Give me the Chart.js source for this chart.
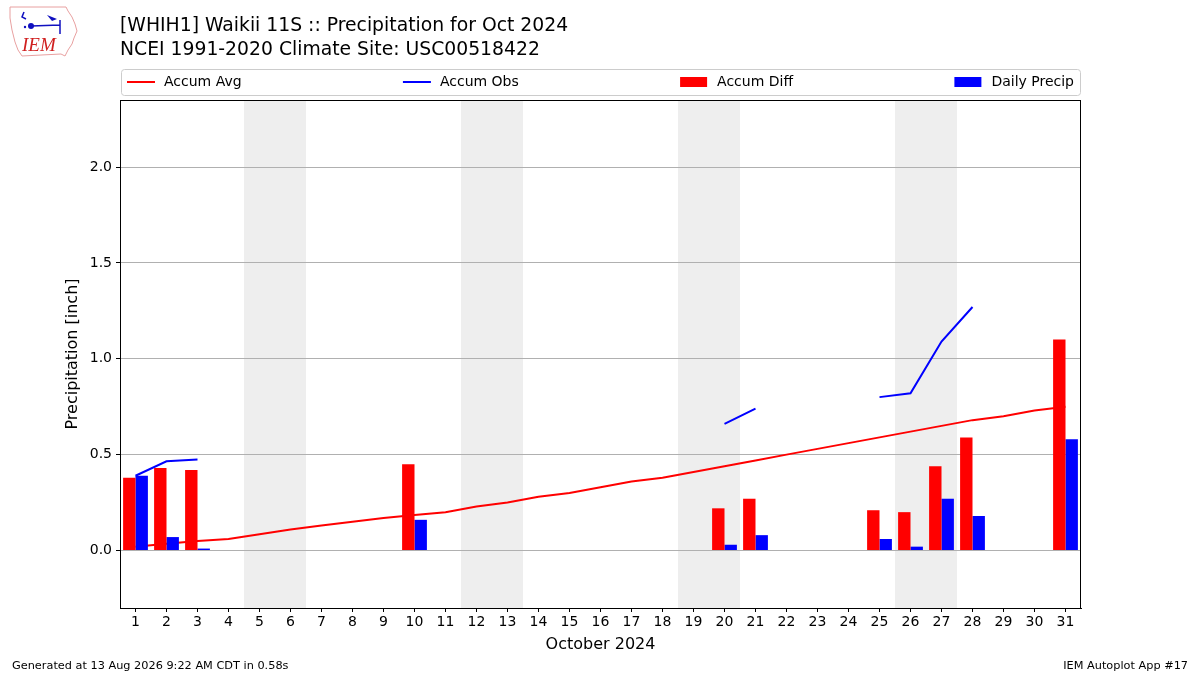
<!DOCTYPE html>
<html>
<head>
<meta charset="utf-8">
<title>Waikii 11S Precipitation Oct 2024</title>
<script src="https://cdn.jsdelivr.net/npm/chart.js@4.4.1/dist/chart.umd.min.js"></script>
<style>
  html, body { margin: 0; padding: 0; background: #fff; }
  #chart { display: block; }
</style>
</head>
<body>
<canvas id="chart" width="1200" height="675"></canvas>
<script>
// days of October 2024
const days = ['1', '2', '3', '4', '5', '6', '7', '8', '9', '10', '11', '12', '13', '14', '15', '16',
  '17', '18', '19', '20', '21', '22', '23', '24', '25', '26', '27', '28', '29', '30', '31'];

// climatology accumulated precip (inch)
const accumAvg = [0.02, 0.035, 0.05, 0.06, 0.085, 0.11, 0.13, 0.15, 0.17, 0.185, 0.20, 0.23, 0.25, 0.28, 0.30, 0.33,
  0.36, 0.38, 0.41, 0.44, 0.47, 0.50, 0.53, 0.56, 0.59, 0.62, 0.65, 0.68, 0.70, 0.73, 0.75];

// observed accumulation, missing days left as gaps
const accumObs = [0.39, 0.465, 0.475, null, null, null, null, null, null, null, null, null, null, null, null, null,
  null, null, null, 0.66, 0.74, null, null, null, 0.80, 0.82, 1.09, 1.27, null, null, null];

const accumDiff = [0.38, 0.43, 0.42, null, null, null, null, null, null, 0.45, null, null, null, null, null, null,
  null, null, null, 0.22, 0.27, null, null, null, 0.21, 0.20, 0.44, 0.59, null, null, 1.10];

const dailyPrecip = [0.39, 0.07, 0.01, null, null, null, null, null, null, 0.16, null, null, null, null, null, null,
  null, null, null, 0.03, 0.08, null, null, null, 0.06, 0.02, 0.27, 0.18, null, null, 0.58];

// weekends as [first day, last day]
const weekends = [['5', '6'], ['12', '13'], ['19', '20'], ['26', '27']];
const yTicks = [0, 0.5, 1.0, 1.5, 2.0];

const titleLines = ['[WHIH1] Waikii 11S :: Precipitation for Oct 2024', 'NCEI 1991-2020 Climate Site: USC00518422'];
const footerLeft = 'Generated at 13 Aug 2026 9:22 AM CDT in 0.58s';
const footerRight = 'IEM Autoplot App #17';

const FONT = '"DejaVu Sans", "Liberation Sans", sans-serif';
Chart.defaults.font.family = FONT;
Chart.defaults.color = '#000';

function drawLogo(ctx) {
  ctx.save();
  ctx.strokeStyle = '#e8a0a0';
  ctx.lineWidth = 1;
  ctx.beginPath();
  const outline = [[10, 7], [66, 7], [68, 11], [72, 17], [75, 24], [77, 31], [74, 38], [72, 44], [68, 50],
    [65, 56], [61, 54], [22, 56], [18, 50], [15, 42], [12, 30], [10, 18]];
  outline.forEach(([x, y], i) => i ? ctx.lineTo(x, y) : ctx.moveTo(x, y));
  ctx.closePath();
  ctx.stroke();
  // little station glyph
  ctx.strokeStyle = '#1010c0';
  ctx.fillStyle = '#1010c0';
  ctx.lineWidth = 1.5;
  ctx.beginPath();
  ctx.moveTo(24, 12); ctx.lineTo(22, 17); ctx.lineTo(26, 19);
  ctx.moveTo(31, 26); ctx.lineTo(60, 25);
  ctx.moveTo(60, 20); ctx.lineTo(60, 34);
  ctx.stroke();
  ctx.beginPath(); ctx.arc(31, 26, 3, 0, Math.PI * 2); ctx.fill();
  ctx.beginPath(); ctx.arc(25, 27, 1.2, 0, Math.PI * 2); ctx.fill();
  ctx.beginPath(); ctx.moveTo(47, 15); ctx.lineTo(57, 19); ctx.lineTo(52, 21); ctx.closePath(); ctx.fill();
  ctx.fillStyle = '#d02020';
  ctx.font = 'italic 19px "Liberation Serif", serif';
  ctx.textBaseline = 'alphabetic';
  ctx.fillText('IEM', 22, 51);
  ctx.restore();
}

const decor = {
  id: 'decor',
  beforeDraw(chart) {
    const {ctx, chartArea: a, scales: {x}} = chart;
    const half = (a.right - a.left) / days.length / 2;
    ctx.save();
    ctx.fillStyle = '#eeeeee';
    weekends.forEach(([d0, d1]) => {
      const x0 = Math.round(x.getPixelForValue(days.indexOf(d0)) - half);
      const x1 = Math.round(x.getPixelForValue(days.indexOf(d1)) + half);
      ctx.fillRect(x0, a.top, x1 - x0, a.bottom - a.top);
    });
    ctx.restore();
  },
  afterDraw(chart) {
    const {ctx, chartArea: a} = chart;
    ctx.save();
    // frame
    ctx.strokeStyle = '#000';
    ctx.lineWidth = 1;
    ctx.strokeRect(a.left + 0.5, a.top + 0.5, a.right - a.left - 1, a.bottom - a.top);

    // legend, matplotlib "expand" style
    const lg = {left: 121, top: 69, right: 1080, bottom: 95};
    ctx.beginPath();
    ctx.roundRect(lg.left + 0.5, lg.top + 0.5, lg.right - lg.left, lg.bottom - lg.top, 3);
    ctx.fillStyle = 'rgba(255,255,255,0.8)';
    ctx.fill();
    ctx.strokeStyle = '#cccccc';
    ctx.stroke();
    ctx.font = '14px ' + FONT;
    ctx.textBaseline = 'middle';
    const items = chart.data.datasets.map(ds => ({
      label: ds.label, color: ds.borderColor || ds.backgroundColor, isLine: ds.type === 'line'
    }));
    const handle = 28, gapText = 9, pad = 6;
    const widths = items.map(it => handle + gapText + ctx.measureText(it.label).width);
    const total = widths.reduce((s, w) => s + w, 0);
    const gap = (lg.right - lg.left - 2 * pad - total) / (items.length - 1);
    const cy = (lg.top + lg.bottom) / 2;
    let px = lg.left + pad;
    items.forEach((it, i) => {
      if (it.isLine) {
        ctx.strokeStyle = it.color;
        ctx.lineWidth = 2;
        ctx.beginPath();
        ctx.moveTo(px, cy);
        ctx.lineTo(px + handle, cy);
        ctx.stroke();
      } else {
        ctx.fillStyle = it.color;
        ctx.fillRect(px, cy - 5, handle - 1, 10);
      }
      ctx.fillStyle = '#000';
      ctx.fillText(it.label, px + handle + gapText, cy);
      px += widths[i] + gap;
    });

    // titles
    ctx.textBaseline = 'alphabetic';
    ctx.fillStyle = '#000';
    ctx.font = '18.8px ' + FONT;
    ctx.fillText(titleLines[0], 120, 31);
    ctx.fillText(titleLines[1], 120, 55);

    // footer
    ctx.font = '11.3px ' + FONT;
    ctx.fillText(footerLeft, 12, 669);
    ctx.textAlign = 'right';
    ctx.fillText(footerRight, 1188, 669);
    ctx.restore();

    drawLogo(ctx);
  }
};

new Chart(document.getElementById('chart'), {
  type: 'bar',
  data: {
    labels: days,
    datasets: [
      {type: 'line', label: 'Accum Avg', data: accumAvg, borderColor: '#ff0000', borderWidth: 2,
        pointRadius: 0, tension: 0, order: 2},
      {type: 'line', label: 'Accum Obs', data: accumObs, borderColor: '#0000ff', borderWidth: 2,
        pointRadius: 0, tension: 0, spanGaps: false, order: 2},
      {type: 'bar', label: 'Accum Diff', data: accumDiff, backgroundColor: '#ff0000',
        categoryPercentage: 0.8, barPercentage: 1.0, order: 1},
      {type: 'bar', label: 'Daily Precip', data: dailyPrecip, backgroundColor: '#0000ff',
        categoryPercentage: 0.8, barPercentage: 1.0, order: 1}
    ]
  },
  options: {
    responsive: false,
    animation: false,
    devicePixelRatio: 1,
    layout: {padding: {top: 100, left: 59, right: 119, bottom: 17}},
    plugins: {
      legend: {display: false},
      title: {display: false},
      tooltip: {enabled: false}
    },
    scales: {
      x: {
        offset: true,
        afterFit: s => { s.height = 50; },
        grid: {offset: false, drawOnChartArea: false, drawTicks: true, tickColor: '#000', tickLength: 4},
        border: {display: true, color: '#000', width: 1},
        ticks: {font: {size: 14}, color: '#000', padding: 2, maxRotation: 0, autoSkip: false},
        title: {display: true, text: 'October 2024', font: {size: 16}, color: '#000', padding: {top: 0, bottom: 4}}
      },
      y: {
        min: -0.3,
        max: 2.35,
        afterFit: s => { s.width = 61; },
        afterBuildTicks: s => { s.ticks = yTicks.map(v => ({value: v})); },
        grid: {color: '#b0b0b0', lineWidth: 1, tickColor: '#000', tickLength: 4},
        border: {display: true, color: '#000', width: 1},
        ticks: {font: {size: 14}, color: '#000', padding: 4, callback: v => v.toFixed(1)},
        title: {display: true, text: 'Precipitation [inch]', font: {size: 16}, color: '#000', padding: {top: 4, bottom: 0}}
      }
    }
  },
  plugins: [decor]
});
</script>
</body>
</html>
